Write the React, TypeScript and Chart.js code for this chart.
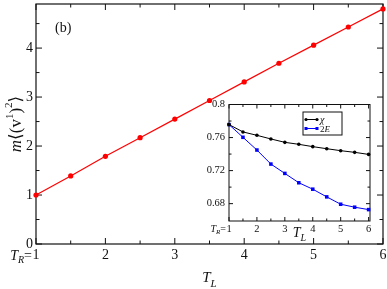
import React, { useEffect, useRef } from "react";
import { Chart, registerables } from "chart.js";
Chart.register(...registerables);

// ---- data ----
const TL = [1, 1.5, 2, 2.5, 3, 3.5, 4, 4.5, 5, 5.5, 6];
const moment = [1.0, 1.39, 1.79, 2.17, 2.55, 2.93, 3.31, 3.69, 4.06, 4.43, 4.8];
const chi = [0.7757, 0.7668, 0.7627, 0.7583, 0.7542, 0.7518, 0.749, 0.7465, 0.7441, 0.7421, 0.7396];
const twoE = [0.7757, 0.7603, 0.7449, 0.7279, 0.7166, 0.7053, 0.6975, 0.6882, 0.6793, 0.6757, 0.6728];
const mainXTicks = [1, 2, 3, 4, 5, 6];
const mainYTicks = [0, 1, 2, 3, 4];
const insetXTicks = [1, 2, 3, 4, 5, 6];
const insetYTicks = [0.68, 0.72, 0.76, 0.8];

const SERIF = "'Liberation Serif','DejaVu Serif','Times New Roman',serif";

type Seg = { t: string; size: number; italic?: boolean; dy?: number };
function drawSegs(ctx: CanvasRenderingContext2D, segs: Seg[], x: number, y: number, align: "left" | "center" | "right") {
  ctx.textAlign = "left";
  ctx.textBaseline = "alphabetic";
  let w = 0;
  const widths = segs.map((s) => {
    ctx.font = `${s.italic ? "italic " : ""}${s.size}px ${SERIF}`;
    const m = ctx.measureText(s.t).width;
    w += m;
    return m;
  });
  let cx = align === "left" ? x : align === "center" ? x - w / 2 : x - w;
  segs.forEach((s, i) => {
    ctx.font = `${s.italic ? "italic " : ""}${s.size}px ${SERIF}`;
    ctx.fillText(s.t, cx, y + (s.dy || 0));
    cx += widths[i];
  });
}

function tickList(major: number[], min: number, max: number) {
  const step = major[1] - major[0];
  const out: { v: number; major: boolean }[] = [];
  for (let k = -4; k < 200; k++) {
    const v = major[0] + (k * step) / 2;
    if (v > max + 1e-9) break;
    if (v < min - 1e-9) continue;
    out.push({ v, major: k % 2 === 0 });
  }
  return out;
}

function drawTicks(chart: any, xMajor: number[], yMajor: number[], majLen: number, minLen: number) {
  const { ctx, chartArea: ca, scales } = chart;
  const sx = scales.x, sy = scales.y;
  const line = (x1: number, y1: number, x2: number, y2: number) => {
    ctx.beginPath();
    ctx.moveTo(x1, y1);
    ctx.lineTo(x2, y2);
    ctx.stroke();
  };
  tickList(xMajor, sx.min, sx.max).forEach(({ v, major }) => {
    const p = sx.getPixelForValue(v);
    const l = major ? majLen : minLen;
    line(p, ca.bottom, p, ca.bottom - l);
    line(p, ca.top, p, ca.top + l);
  });
  tickList(yMajor, sy.min, sy.max).forEach(({ v, major }) => {
    const p = sy.getPixelForValue(v);
    if (Math.abs(p - ca.bottom) < 2 && !major) return;
    const l = major ? majLen : minLen;
    line(ca.left, p, ca.left + l, p);
    line(ca.right, p, ca.right - l, p);
  });
}

const mainDecor = {
  id: "mainDecor",
  beforeDatasetsDraw(chart: any) {
    const { ctx, chartArea: ca } = chart;
    ctx.save();
    ctx.strokeStyle = "#111";
    ctx.lineWidth = 1.2;
    ctx.strokeRect(ca.left, ca.top, ca.right - ca.left, ca.bottom - ca.top);
    ctx.lineWidth = 1;
    drawTicks(chart, mainXTicks, mainYTicks, 6, 3.5);
    ctx.restore();
  },
  afterDraw(chart: any) {
    const { ctx, chartArea: ca, scales } = chart;
    ctx.save();
    ctx.fillStyle = "#111";
    drawSegs(ctx, [{ t: "(b)", size: 14 }], ca.left + 19, ca.top + 28, "left");
    const x1 = scales.x.getPixelForValue(mainXTicks[0]);
    drawSegs(
      ctx,
      [
        { t: "T", size: 14, italic: true },
        { t: "R", size: 10, italic: true, dy: 3 },
        { t: "=", size: 14 },
      ],
      x1 - 4,
      ca.bottom + 16,
      "right"
    );
    drawSegs(
      ctx,
      [
        { t: "T", size: 15, italic: true },
        { t: "L", size: 11, italic: true, dy: 5 },
      ],
      (ca.left + ca.right) / 2,
      ca.bottom + 38,
      "center"
    );
    ctx.translate(21, (ca.top + ca.bottom) / 2);
    ctx.rotate(-Math.PI / 2);
    drawSegs(
      ctx,
      [
        { t: "m", size: 17, italic: true },
        { t: "\u27E8(v", size: 17 },
        { t: "1", size: 11, dy: -8 },
        { t: ")", size: 17 },
        { t: "2", size: 11, dy: -9 },
        { t: "\u27E9", size: 17 },
      ],
      0,
      0,
      "center"
    );
    ctx.restore();
  },
};

const insetDecor = {
  id: "insetDecor",
  beforeDatasetsDraw(chart: any) {
    const { ctx, chartArea: ca } = chart;
    ctx.save();
    ctx.strokeStyle = "#111";
    ctx.lineWidth = 1;
    ctx.strokeRect(ca.left, ca.top, ca.right - ca.left, ca.bottom - ca.top);
    drawTicks(chart, insetXTicks, insetYTicks, 4, 2.5);
    ctx.restore();
  },
  afterDraw(chart: any) {
    const { ctx, chartArea: ca, scales } = chart;
    ctx.save();
    ctx.fillStyle = "#111";
    const x1 = scales.x.getPixelForValue(insetXTicks[0]);
    drawSegs(
      ctx,
      [
        { t: "T", size: 10, italic: true },
        { t: "R", size: 7, italic: true, dy: 2.5 },
        { t: "=", size: 10 },
      ],
      x1 - 3,
      ca.bottom + 10.5,
      "right"
    );
    drawSegs(
      ctx,
      [
        { t: "T", size: 14, italic: true },
        { t: "L", size: 10, italic: true, dy: 4 },
      ],
      (ca.left + ca.right) / 2,
      ca.bottom + 16,
      "center"
    );
    // legend
    const bx = ca.left + 74, by = ca.top + 7.5, bw = 39, bh = 23;
    ctx.strokeStyle = "#111";
    ctx.lineWidth = 1;
    ctx.strokeRect(bx, by, bw, bh);
    const ds = chart.data.datasets;
    const rows = [by + 7.5, by + 16.5];
    const labels: Seg[][] = [
      [{ t: "\u03C7", size: 10, italic: true }],
      [
        { t: "2", size: 9 },
        { t: "E", size: 9, italic: true },
      ],
    ];
    ds.forEach((d: any, i: number) => {
      const y = rows[i];
      ctx.strokeStyle = d.borderColor;
      ctx.fillStyle = d.borderColor;
      ctx.beginPath();
      ctx.moveTo(bx + 3, y);
      ctx.lineTo(bx + 14, y);
      ctx.stroke();
      [bx + 3, bx + 14].forEach((px) => {
        if (d.pointStyle === "rect") ctx.fillRect(px - 1.5, y - 1.5, 3, 3);
        else {
          ctx.beginPath();
          ctx.arc(px, y, 1.6, 0, Math.PI * 2);
          ctx.fill();
        }
      });
      ctx.fillStyle = "#111";
      drawSegs(ctx, labels[i], bx + 17, y + 3.5, "left");
    });
    ctx.restore();
  },
};

function fixAxis(size: number, vertical: boolean) {
  return (scale: any) => {
    if (vertical) scale.width = size;
    else scale.height = size;
    scale.paddingLeft = 0;
    scale.paddingRight = 0;
    scale.paddingTop = 0;
    scale.paddingBottom = 0;
  };
}

const noGrid = { display: false, drawTicks: false, tickLength: 0 };

export default function App() {
  const mainRef = useRef<HTMLCanvasElement>(null);
  const insetRef = useRef<HTMLCanvasElement>(null);

  useEffect(() => {
    const main = new Chart(mainRef.current!, {
      type: "line",
      data: {
        datasets: [
          {
            data: TL.map((t, i) => ({ x: t, y: moment[i] })),
            borderColor: "#ff0000",
            backgroundColor: "#ff0000",
            borderWidth: 1.2,
            pointRadius: 2.6,
            pointBorderWidth: 0,
            pointBackgroundColor: "#ff0000",
            tension: 0,
            clip: false as any,
          },
        ],
      },
      options: {
        animation: false,
        responsive: false,
        devicePixelRatio: 1,
        events: [],
        layout: { padding: { top: 2, right: 4, left: 0, bottom: 0 } },
        plugins: { legend: { display: false }, tooltip: { enabled: false } },
        scales: {
          x: {
            type: "linear",
            min: 1,
            max: 6,
            afterBuildTicks: (s: any) => {
              s.ticks = mainXTicks.map((v) => ({ value: v }));
            },
            afterFit: fixAxis(45, false),
            grid: noGrid,
            border: { display: false },
            ticks: { font: { family: SERIF, size: 14 }, color: "#111", padding: 3, maxRotation: 0, autoSkip: false },
          },
          y: {
            type: "linear",
            min: 0,
            max: 4.9,
            afterBuildTicks: (s: any) => {
              s.ticks = mainYTicks.map((v) => ({ value: v }));
            },
            afterFit: fixAxis(36, true),
            grid: noGrid,
            border: { display: false },
            ticks: { font: { family: SERIF, size: 14 }, color: "#111", padding: 3, autoSkip: false },
          },
        },
      },
      plugins: [mainDecor],
    });

    const inset = new Chart(insetRef.current!, {
      type: "line",
      data: {
        datasets: [
          {
            data: TL.map((t, i) => ({ x: t, y: chi[i] })),
            borderColor: "#000000",
            backgroundColor: "#000000",
            borderWidth: 1,
            pointRadius: 1.8,
            pointBorderWidth: 0,
            pointStyle: "circle",
            tension: 0,
            clip: false as any,
          },
          {
            data: TL.map((t, i) => ({ x: t, y: twoE[i] })),
            borderColor: "#0000ff",
            backgroundColor: "#0000ff",
            borderWidth: 1,
            pointRadius: 2.5,
            pointBorderWidth: 0,
            pointStyle: "rect",
            tension: 0,
            clip: false as any,
          },
        ],
      },
      options: {
        animation: false,
        responsive: false,
        devicePixelRatio: 1,
        events: [],
        layout: { padding: { top: 6.5, right: 10, left: 0, bottom: 0 } },
        plugins: { legend: { display: false }, tooltip: { enabled: false } },
        scales: {
          x: {
            type: "linear",
            min: 1,
            max: 6.05,
            afterBuildTicks: (s: any) => {
              s.ticks = insetXTicks.map((v) => ({ value: v }));
            },
            afterFit: fixAxis(25, false),
            grid: noGrid,
            border: { display: false },
            ticks: { font: { family: SERIF, size: 10.5 }, color: "#111", padding: 2, maxRotation: 0, autoSkip: false },
          },
          y: {
            type: "linear",
            min: 0.659,
            max: 0.8,
            afterBuildTicks: (s: any) => {
              s.ticks = insetYTicks.map((v) => ({ value: v }));
            },
            afterFit: fixAxis(35, true),
            grid: noGrid,
            border: { display: false },
            ticks: {
              font: { family: SERIF, size: 10.5 },
              color: "#111",
              padding: 4,
              autoSkip: false,
              callback: (v: any) => String(v),
            },
          },
        },
      },
      plugins: [insetDecor],
    });

    return () => {
      main.destroy();
      inset.destroy();
    };
  }, []);

  return (
    <div style={{ position: "fixed", left: 0, top: 0, width: 387, height: 289, background: "#fff" }}>
      <canvas ref={mainRef} width={387} height={289} style={{ position: "absolute", left: 0, top: 0, width: 387, height: 289 }} />
      <canvas ref={insetRef} width={186} height={148} style={{ position: "absolute", left: 194, top: 98, width: 186, height: 148 }} />
    </div>
  );
}
